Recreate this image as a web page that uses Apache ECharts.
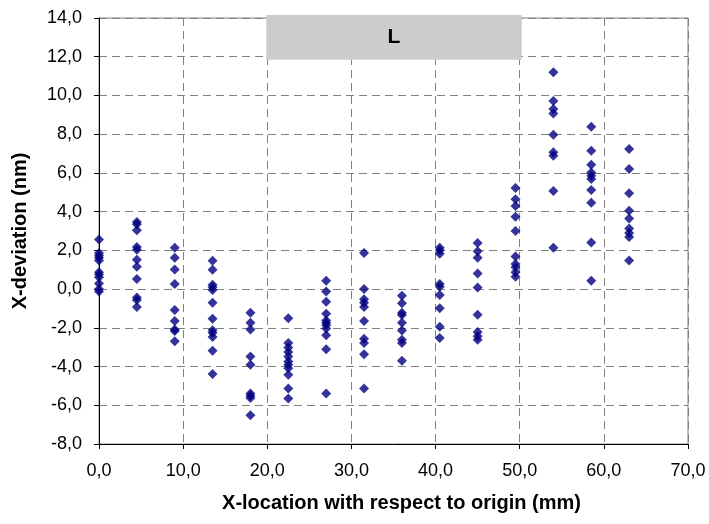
<!DOCTYPE html>
<html>
<head>
<meta charset="utf-8">
<script src="https://cdn.jsdelivr.net/npm/echarts@6/dist/echarts.min.js"></script>
<style>
  html, body { margin: 0; padding: 0; background: #ffffff; }
  #chart { width: 709px; height: 524px; }
</style>
</head>
<body>
<div id="chart"></div>
<script>
// Measurement locations along X (mm)
const xLocations = [0, 4.5, 9, 13.5, 18, 22.5, 27, 31.5, 36, 40.5, 45, 49.5, 54, 58.5, 63];

// X-deviation (nm) measured at each location
const dev00 = [2.56, 1.86, 1.74, 1.62, 1.48, 0.87, 0.75, 0.61, 0.29, 0.0, -0.13];
const dev045 = [3.47, 3.35, 3.04, 2.17, 2.03, 1.51, 1.16, 0.52, -0.44, -0.56, -0.92];
const dev090 = [2.14, 1.62, 1.01, 0.26, -1.08, -1.65, -2.09, -2.17, -2.70];
const dev135 = [1.47, 1.0, 0.22, 0.09, -0.05, -0.70, -1.53, -2.12, -2.26, -2.48, -3.18, -4.38];
const dev180 = [-1.22, -1.74, -2.09, -3.48, -3.91, -5.39, -5.51, -5.62, -6.52];
const dev225 = [-1.51, -2.78, -3.01, -3.25, -3.48, -3.74, -3.91, -4.09, -4.43, -5.13, -5.65];
const dev270 = [0.43, -0.13, -0.65, -1.27, -1.62, -1.74, -1.86, -2.03, -2.38, -3.11, -5.39];
const dev315 = [1.86, 0.0, -0.52, -0.70, -0.92, -1.65, -2.56, -2.79, -3.36, -5.13];
const dev360 = [-0.35, -0.73, -1.22, -1.34, -1.74, -2.14, -2.61, -2.79, -3.70];
const dev405 = [2.14, 2.0, 1.83, 0.26, 0.12, -0.30, -0.99, -1.95, -2.52];
const dev450 = [2.38, 1.96, 1.62, 0.81, 0.08, -1.32, -2.21, -2.44, -2.61];
const dev495 = [5.22, 4.64, 4.29, 3.73, 3.0, 1.68, 1.30, 1.13, 0.87, 0.64];
const dev540 = [11.2, 9.72, 9.30, 9.07, 7.97, 7.07, 6.89, 5.07, 2.14];
const dev585 = [8.39, 7.15, 6.42, 6.02, 5.85, 5.68, 5.12, 4.46, 2.40, 0.43];
const dev630 = [7.24, 6.20, 4.95, 4.04, 3.65, 3.13, 2.90, 2.69, 1.48];

const deviations = [dev00, dev045, dev090, dev135, dev180, dev225, dev270, dev315,
                    dev360, dev405, dev450, dev495, dev540, dev585, dev630];

// Highlighted region and its label
const regionLabel = 'L';
const regionX = [20, 50];
const regionY = [12, 14];

// Axis ranges and tick spacing
const xMin = 0, xMax = 70, xStep = 10;
const yMin = -8, yMax = 14, yStep = 2;

const points = [];
xLocations.forEach((x, i) => {
  deviations[i].forEach(v => points.push([x, v]));
});

const fmt = v => v.toFixed(1).replace('.', ',');
const font = '"Liberation Sans", Arial, sans-serif';

const chart = echarts.init(document.getElementById('chart'), null, { renderer: 'canvas' });

chart.setOption({
  animation: false,
  backgroundColor: '#ffffff',
  grid: {
    left: 99, right: 21, top: 18, bottom: 80,
    show: true, borderColor: '#808080', borderWidth: 1, backgroundColor: 'transparent'
  },
  xAxis: {
    type: 'value', min: xMin, max: xMax, interval: xStep,
    name: 'X-location with respect to origin (mm)',
    nameLocation: 'middle', nameGap: 49,
    nameTextStyle: {
      fontFamily: font, fontWeight: 'bold', fontSize: 20, color: '#000',
      padding: [0, 0, 0, 16]
    },
    axisLine: { show: true, onZero: false, lineStyle: { color: '#000', width: 1 } },
    axisTick: { show: true, inside: false, length: 5, lineStyle: { color: '#000' } },
    axisLabel: { formatter: fmt, margin: 18, fontFamily: font, fontSize: 18, color: '#000' },
    splitLine: { show: true, lineStyle: { color: '#808080', type: [8, 5], width: 1 } }
  },
  yAxis: {
    type: 'value', min: yMin, max: yMax, interval: yStep,
    name: 'X-deviation (nm)',
    nameLocation: 'middle', nameGap: 69, nameRotate: 90,
    nameTextStyle: { fontFamily: font, fontWeight: 'bold', fontSize: 20, color: '#000' },
    axisLine: { show: true, onZero: false, lineStyle: { color: '#000', width: 1 } },
    axisTick: { show: true, inside: false, length: 5, lineStyle: { color: '#000' } },
    axisLabel: { formatter: fmt, margin: 17, fontFamily: font, fontSize: 18, color: '#000' },
    splitLine: { show: true, lineStyle: { color: '#808080', type: [8, 5], width: 1 } }
  },
  series: [{
    type: 'scatter',
    data: points,
    symbol: 'diamond',
    symbolSize: 10,
    itemStyle: { color: '#000080' },
    z: 3
  }]
});

// Shaded label box spanning the highlighted X range at the top of the plot
const p0 = chart.convertToPixel({ gridIndex: 0 }, [regionX[0], regionY[1]]);
const p1 = chart.convertToPixel({ gridIndex: 0 }, [regionX[1], regionY[0]]);
const bx = p0[0] - 1, by = p0[1] - 3;
const bw = p1[0] + 2 - bx, bh = p1[1] + 3 - by;
chart.setOption({
  graphic: [{
    type: 'group',
    z: 10,
    children: [{
      type: 'rect',
      shape: { x: bx, y: by, width: bw, height: bh },
      style: { fill: '#cccccc' }
    }, {
      type: 'text',
      x: bx + bw / 2, y: by + bh / 2,
      style: {
        text: regionLabel, fill: '#000', font: 'bold 21px ' + font,
        textAlign: 'center', textVerticalAlign: 'middle'
      }
    }]
  }]
});
</script>
</body>
</html>
